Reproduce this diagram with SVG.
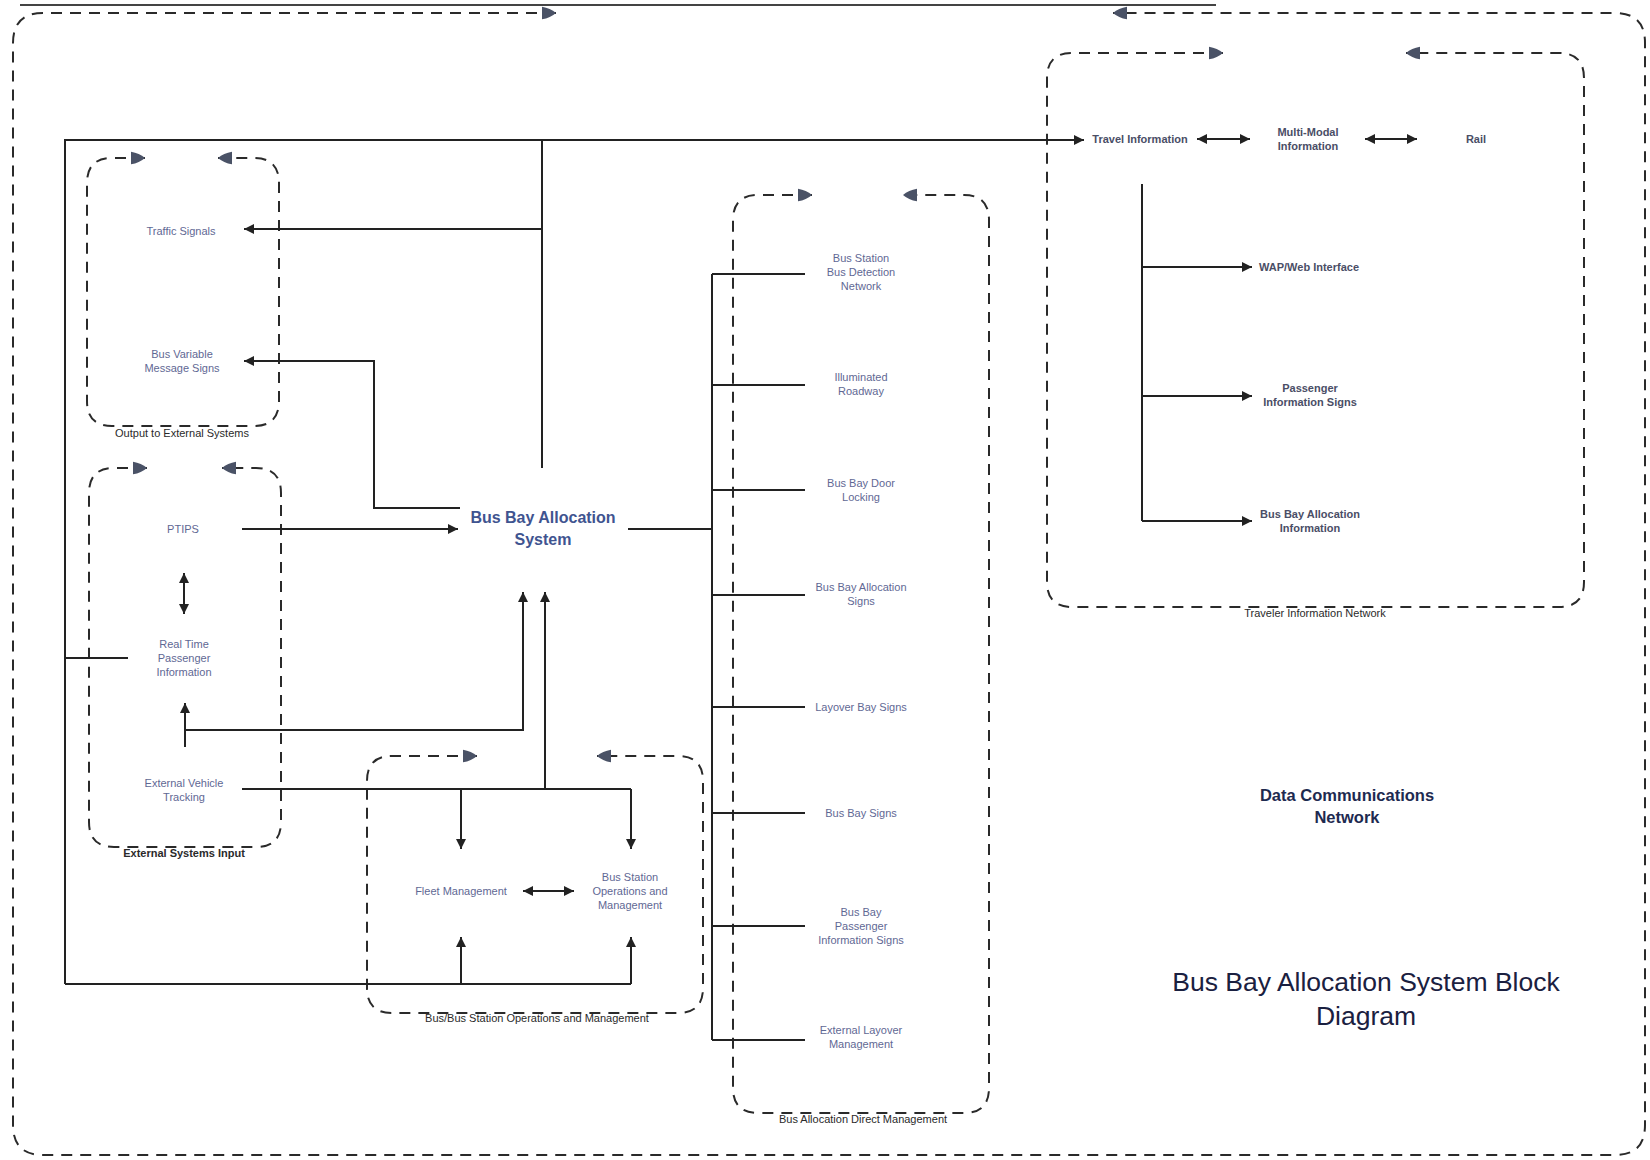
<svg xmlns="http://www.w3.org/2000/svg" width="1650" height="1160" viewBox="0 0 1650 1160">
<style>
.grp{fill:none;stroke:#2a2a2a;stroke-width:2;stroke-dasharray:11 8;marker-start:url(#gah);marker-end:url(#gah)}
.con{fill:none;stroke:#222;stroke-width:2}
.arr{marker-end:url(#ah)}
.dbl{marker-start:url(#ah);marker-end:url(#ah)}
.lbl{font-family:"Liberation Sans",Arial,sans-serif;font-size:11px;fill:#5f6894;text-anchor:middle}
.tl{font-family:"Liberation Sans",Arial,sans-serif;font-size:11px;fill:#4a4e66;text-anchor:middle;font-weight:bold}
.glbl{font-family:"Liberation Sans",Arial,sans-serif;font-size:11px;fill:#2a2a2a;text-anchor:middle}
.main{font-family:"Liberation Sans",Arial,sans-serif;font-size:16px;font-weight:bold;fill:#3f5490;text-anchor:middle}
.dcn{font-family:"Liberation Sans",Arial,sans-serif;font-size:16.5px;font-weight:bold;fill:#1e2a50;text-anchor:middle}
.title{font-family:"Liberation Sans",Arial,sans-serif;font-size:26.5px;fill:#1a2040;text-anchor:middle}
</style>
<defs>
<marker id="ah" viewBox="0 0 10 10" refX="10" refY="5" markerWidth="13" markerHeight="10" markerUnits="userSpaceOnUse" orient="auto-start-reverse"><path d="M0,0 L10,5 L0,10 z" fill="#222"/></marker>
<marker id="gah" viewBox="0 0 10 10" refX="10" refY="5" markerWidth="14" markerHeight="14" markerUnits="userSpaceOnUse" orient="auto-start-reverse"><path d="M0,0.5 Q6,1.5 10,5 Q6,8.5 0,9.5 z" fill="#4a5266"/></marker>
</defs>
<rect width="1650" height="1160" fill="#fff"/>
<line x1="20" y1="5" x2="1216" y2="5" stroke="#444" stroke-width="2"/>

<g id="outer-network">
<path class="grp" d="M556,13 L43,13 Q13,13 13,43 L13,1125 Q13,1155 43,1155 L1615,1155 Q1645,1155 1645,1125 L1645,43 Q1645,13 1615,13 L1113,13"/>
</g>
<g id="group-output-external">
<path class="grp" d="M145,158 L112,158 Q87,158 87,183 L87,401 Q87,426 112,426 L254,426 Q279,426 279,401 L279,183 Q279,158 254,158 L218,158"/>
<text class="glbl" x="182" y="437">Output to External Systems</text>
</g>
<g id="group-external-input">
<path class="grp" d="M147,468 L114,468 Q89,468 89,493 L89,822 Q89,847 114,847 L256,847 Q281,847 281,822 L281,493 Q281,468 256,468 L222,468"/>
<text class="glbl" x="184" y="857" font-weight="bold">External Systems Input</text>
</g>
<g id="group-bus-station-ops">
<path class="grp" d="M477,756 L392,756 Q367,756 367,781 L367,988 Q367,1013 392,1013 L678,1013 Q703,1013 703,988 L703,781 Q703,756 678,756 L597,756"/>
<text class="glbl" x="537" y="1022">Bus/Bus Station Operations and Management</text>
</g>
<g id="group-direct-management">
<path class="grp" d="M812,195 L758,195 Q733,195 733,220 L733,1088 Q733,1113 758,1113 L964,1113 Q989,1113 989,1088 L989,220 Q989,195 964,195 L903,195"/>
<text class="glbl" x="863" y="1123">Bus Allocation Direct Management</text>
</g>
<g id="group-traveler-info">
<path class="grp" d="M1223,53 L1072,53 Q1047,53 1047,78 L1047,582 Q1047,607 1072,607 L1559,607 Q1584,607 1584,582 L1584,78 Q1584,53 1559,53 L1406,53"/>
<text class="glbl" x="1315" y="617">Traveler Information Network</text>
</g>

<g id="connectors">
<path class="con arr" d="M65,984 L65,140 L1084,140"/>
<path class="con" d="M65,984 L631,984"/>
<path class="con arr" d="M461,984 L461,937"/>
<path class="con arr" d="M631,984 L631,937"/>
<path class="con" d="M65,658 L128,658"/>
<path class="con" d="M542,468 L542,140"/>
<path class="con arr" d="M542,229 L244,229"/>
<path class="con arr" d="M460,508 L374,508 L374,361 L244,361"/>
<path class="con arr" d="M242,529 L458,529"/>
<path class="con dbl" d="M184,573 L184,614"/>
<path class="con arr" d="M185,747 L185,703"/>
<path class="con arr" d="M185,730 L523,730 L523,592"/>
<path class="con arr" d="M545,789 L545,592"/>
<path class="con" d="M242,789 L631,789"/>
<path class="con arr" d="M461,789 L461,849"/>
<path class="con arr" d="M631,789 L631,849"/>
<path class="con dbl" d="M523,891 L574,891"/>
<path class="con" d="M628,529 L712,529"/>
<path class="con" d="M712,274 L712,1040"/>
<path class="con" d="M712,274 L805,274"/>
<path class="con" d="M712,385 L805,385"/>
<path class="con" d="M712,490 L805,490"/>
<path class="con" d="M712,595 L805,595"/>
<path class="con" d="M712,707 L805,707"/>
<path class="con" d="M712,813 L805,813"/>
<path class="con" d="M712,926 L805,926"/>
<path class="con" d="M712,1040 L805,1040"/>
<path class="con dbl" d="M1197,139 L1250,139"/>
<path class="con dbl" d="M1365,139 L1417,139"/>
<path class="con" d="M1142,184 L1142,521"/>
<path class="con arr" d="M1142,267 L1252,267"/>
<path class="con arr" d="M1142,396 L1252,396"/>
<path class="con arr" d="M1142,521 L1252,521"/>
</g>

<g id="node-traffic-signals"><text class="lbl" x="181" y="235">Traffic Signals</text></g>
<g id="node-bus-vms"><text class="lbl" x="182" y="358">Bus Variable</text><text class="lbl" x="182" y="372">Message Signs</text></g>
<g id="node-ptips"><text class="lbl" x="183" y="533">PTIPS</text></g>
<g id="node-rtpi"><text class="lbl" x="184" y="648">Real Time</text><text class="lbl" x="184" y="662">Passenger</text><text class="lbl" x="184" y="676">Information</text></g>
<g id="node-evt"><text class="lbl" x="184" y="787">External Vehicle</text><text class="lbl" x="184" y="801">Tracking</text></g>
<g id="node-bbas"><text class="main" x="543" y="523">Bus Bay Allocation</text><text class="main" x="543" y="545">System</text></g>
<g id="node-fleet"><text class="lbl" x="461" y="895">Fleet Management</text></g>
<g id="node-bus-station-ops"><text class="lbl" x="630" y="881">Bus Station</text><text class="lbl" x="630" y="895">Operations and</text><text class="lbl" x="630" y="909">Management</text></g>
<g id="node-detection"><text class="lbl" x="861" y="262">Bus Station</text><text class="lbl" x="861" y="276">Bus Detection</text><text class="lbl" x="861" y="290">Network</text></g>
<g id="node-roadway"><text class="lbl" x="861" y="381">Illuminated</text><text class="lbl" x="861" y="395">Roadway</text></g>
<g id="node-door"><text class="lbl" x="861" y="487">Bus Bay Door</text><text class="lbl" x="861" y="501">Locking</text></g>
<g id="node-alloc-signs"><text class="lbl" x="861" y="591">Bus Bay Allocation</text><text class="lbl" x="861" y="605">Signs</text></g>
<g id="node-layover-signs"><text class="lbl" x="861" y="711">Layover Bay Signs</text></g>
<g id="node-bay-signs"><text class="lbl" x="861" y="817">Bus Bay Signs</text></g>
<g id="node-bay-pis"><text class="lbl" x="861" y="916">Bus Bay</text><text class="lbl" x="861" y="930">Passenger</text><text class="lbl" x="861" y="944">Information Signs</text></g>
<g id="node-ext-layover"><text class="lbl" x="861" y="1034">External Layover</text><text class="lbl" x="861" y="1048">Management</text></g>
<g id="node-travel-info"><text class="tl" x="1140" y="143">Travel Information</text></g>
<g id="node-multimodal"><text class="tl" x="1308" y="136">Multi-Modal</text><text class="tl" x="1308" y="150">Information</text></g>
<g id="node-rail"><text class="tl" x="1476" y="143">Rail</text></g>
<g id="node-wap"><text class="tl" x="1309" y="271">WAP/Web Interface</text></g>
<g id="node-pis"><text class="tl" x="1310" y="392">Passenger</text><text class="tl" x="1310" y="406">Information Signs</text></g>
<g id="node-bbai"><text class="tl" x="1310" y="518">Bus Bay Allocation</text><text class="tl" x="1310" y="532">Information</text></g>
<g id="label-dcn"><text class="dcn" x="1347" y="801">Data Communications</text><text class="dcn" x="1347" y="823">Network</text></g>
<g id="label-title"><text class="title" x="1366" y="991">Bus Bay Allocation System Block</text><text class="title" x="1366" y="1025">Diagram</text></g>
</svg>
